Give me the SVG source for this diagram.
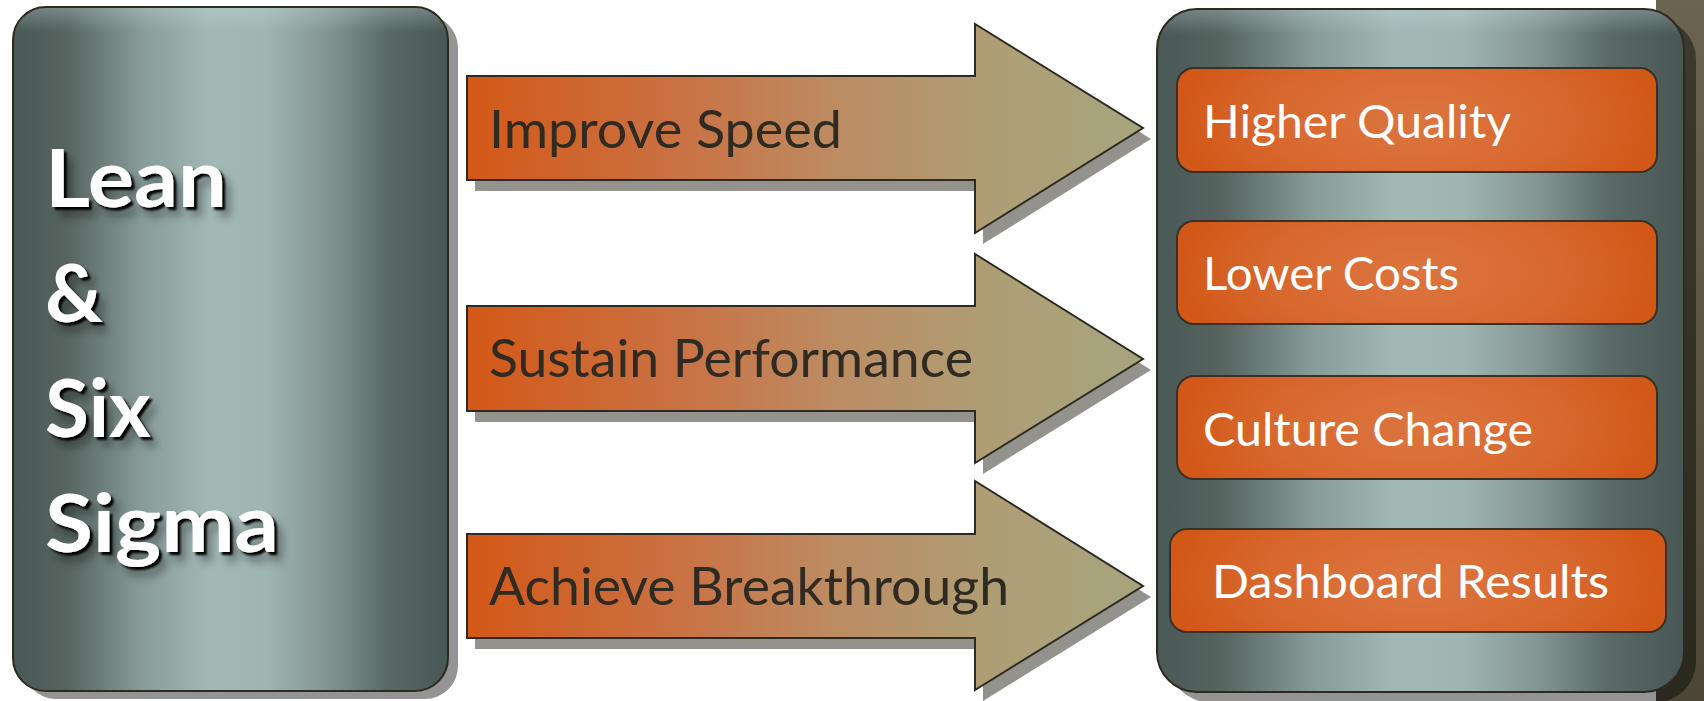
<svg xmlns="http://www.w3.org/2000/svg" width="1704" height="701" viewBox="0 0 1704 701">
<defs>
  <linearGradient id="steel" x1="0" y1="0" x2="1" y2="0">
    <stop offset="0" stop-color="#4a5856"/>
    <stop offset="0.12" stop-color="#56635f"/>
    <stop offset="0.3" stop-color="#889c99"/>
    <stop offset="0.45" stop-color="#a1b8b5"/>
    <stop offset="0.58" stop-color="#9fb5b2"/>
    <stop offset="0.72" stop-color="#849694"/>
    <stop offset="0.86" stop-color="#5a6967"/>
    <stop offset="1" stop-color="#485654"/>
  </linearGradient>
  <linearGradient id="steelTop" x1="0" y1="0" x2="0" y2="1">
    <stop offset="0" stop-color="#c8e0e2" stop-opacity="0.3"/>
    <stop offset="0.035" stop-color="#c8e0e2" stop-opacity="0"/>
    <stop offset="1" stop-color="#c8e0e2" stop-opacity="0"/>
  </linearGradient>
  <linearGradient id="arrowFill" x1="0" y1="0" x2="1" y2="0">
    <stop offset="0" stop-color="#d45817"/>
    <stop offset="0.33" stop-color="#c97346"/>
    <stop offset="0.55" stop-color="#bc8c63"/>
    <stop offset="0.78" stop-color="#ae9e75"/>
    <stop offset="1" stop-color="#a6a57e"/>
  </linearGradient>
  <radialGradient id="orange" cx="0.5" cy="0.5" r="0.5" gradientTransform="translate(0.5 0.5) scale(1 2.2) translate(-0.5 -0.5)">
    <stop offset="0" stop-color="#dc7540"/>
    <stop offset="0.6" stop-color="#d8682e"/>
    <stop offset="1" stop-color="#d25818"/>
  </radialGradient>
  <linearGradient id="olive" x1="0" y1="0" x2="0" y2="1">
    <stop offset="0" stop-color="#6b6450"/>
    <stop offset="1" stop-color="#4b4636"/>
  </linearGradient>
  <filter id="txtShadow" x="-20%" y="-20%" width="150%" height="160%">
    <feGaussianBlur in="SourceAlpha" stdDeviation="5" result="b1"/>
    <feOffset in="b1" dx="8" dy="10" result="o1"/>
    <feComponentTransfer in="o1" result="s1"><feFuncA type="linear" slope="0.35"/></feComponentTransfer>
    <feOffset in="SourceAlpha" dx="2.5" dy="2.5" result="o2"/>
    <feGaussianBlur in="o2" stdDeviation="0.8" result="s2"/>
    <feMerge><feMergeNode in="s1"/><feMergeNode in="s2"/><feMergeNode in="SourceGraphic"/></feMerge>
  </filter>
</defs>
<style>
  .panel { fill: url(#steel); stroke: #2f2a20; stroke-width: 2; }
  .hl { fill: url(#steelTop); stroke: none; }
  .shadow { fill: #000; fill-opacity: 0.42; }
  .arrow { fill: url(#arrowFill); stroke: #2c2a22; stroke-width: 2; }
  .ashadow { fill: #93928d; }
  .box { fill: url(#orange); stroke: #3a3126; stroke-width: 2; }
  .big { font-family: Lato, "Open Sans", sans-serif; font-weight: bold; font-size: 80px; fill: #ffffff; }
  .atext { font-family: Lato, "Open Sans", sans-serif; font-size: 52px; fill: #2f2b22; }
  .btext { font-family: Lato, "Open Sans", sans-serif; font-size: 47px; fill: #ffffff; }
</style>
<rect width="1704" height="701" fill="#ffffff"/>
<rect x="1656" y="0" width="48" height="701" fill="url(#olive)"/>

<g id="lean-six-sigma">
  <rect class="shadow" x="23" y="15" width="435" height="684" rx="33"/>
  <rect class="panel" x="13" y="7" width="435" height="684" rx="33"/>
  <rect class="hl" x="14" y="8" width="433" height="682" rx="32"/>
  <g filter="url(#txtShadow)">
    <text class="big" x="45" y="207" textLength="182" lengthAdjust="spacingAndGlyphs">Lean</text>
    <text class="big" x="45" y="322">&amp;</text>
    <text class="big" x="45" y="437">Six</text>
    <text class="big" x="45" y="552" textLength="234" lengthAdjust="spacingAndGlyphs">Sigma</text>
  </g>
</g>

<g id="results">
  <rect class="shadow" x="1169" y="19" width="527" height="683" rx="40"/>
  <rect class="panel" x="1157" y="9" width="527" height="683" rx="40"/>
  <rect class="hl" x="1158" y="10" width="525" height="681" rx="39"/>
</g>

<g id="connectors">
  <g id="arrow-improve-speed">
    <path class="ashadow" transform="translate(8 11)" d="M467,76 H975 V24 L1143,128 L975,233 V180 H467 Z"/>
    <path class="arrow" d="M467,76 H975 V24 L1143,128 L975,233 V180 H467 Z"/>
    <text class="atext" x="489" y="148" textLength="353" lengthAdjust="spacingAndGlyphs">Improve Speed</text>
  </g>
  <g id="arrow-sustain-performance">
    <path class="ashadow" transform="translate(8 11)" d="M467,306 H975 V254 L1143,359 L975,463 V411 H467 Z"/>
    <path class="arrow" d="M467,306 H975 V254 L1143,359 L975,463 V411 H467 Z"/>
    <text class="atext" x="489" y="377" textLength="484" lengthAdjust="spacingAndGlyphs">Sustain Performance</text>
  </g>
  <g id="arrow-achieve-breakthrough">
    <path class="ashadow" transform="translate(8 11)" d="M467,534 H975 V481 L1143,586 L975,690 V638 H467 Z"/>
    <path class="arrow" d="M467,534 H975 V481 L1143,586 L975,690 V638 H467 Z"/>
    <text class="atext" x="489" y="605" textLength="520" lengthAdjust="spacingAndGlyphs">Achieve Breakthrough</text>
  </g>
</g>

<g id="higher-quality">
  <rect class="box" x="1177" y="68" width="480" height="104" rx="17"/>
  <text class="btext" x="1203" y="138" textLength="308" lengthAdjust="spacingAndGlyphs">Higher Quality</text>
</g>
<g id="lower-costs">
  <rect class="box" x="1177" y="221" width="480" height="103" rx="17"/>
  <text class="btext" x="1203" y="290" textLength="256" lengthAdjust="spacingAndGlyphs">Lower Costs</text>
</g>
<g id="culture-change">
  <rect class="box" x="1177" y="376" width="480" height="103" rx="17"/>
  <text class="btext" x="1203" y="446" textLength="330" lengthAdjust="spacingAndGlyphs">Culture Change</text>
</g>
<g id="dashboard-results">
  <rect class="box" x="1170" y="529" width="496" height="103" rx="17"/>
  <text class="btext" x="1212" y="598" textLength="397" lengthAdjust="spacingAndGlyphs">Dashboard Results</text>
</g>
</svg>
